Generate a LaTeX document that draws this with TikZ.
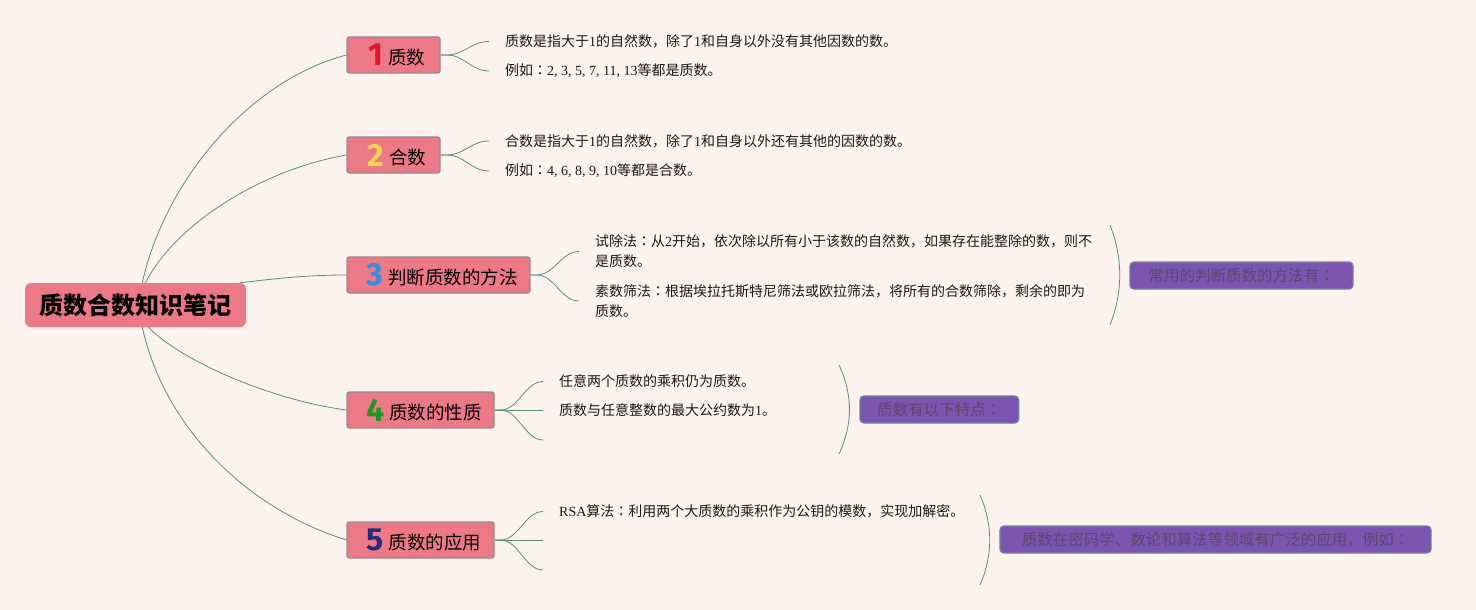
\documentclass[tikz,border=0pt]{standalone}
\usepackage{fontspec}
\setmainfont{Noto Sans CJK SC}
\newfontfamily\latn{Liberation Serif}
\newfontfamily\numf{Fira Sans}
\newfontfamily\tcf{Noto Sans CJK TC}
\definecolor{bg}{HTML}{FDF3EE}
\definecolor{pinkf}{HTML}{EE7986}
\definecolor{boxb}{HTML}{8E8E8E}
\definecolor{conn}{HTML}{5D8E73}
\definecolor{purp}{HTML}{7D55B1}
\definecolor{purpb}{HTML}{6D7FA3}
\definecolor{purpt}{HTML}{5A4A6C}
\definecolor{n1}{HTML}{E3162F}
\definecolor{n2}{HTML}{F7D54E}
\definecolor{n3}{HTML}{2E8FE0}
\definecolor{n4}{HTML}{1D9A22}
\definecolor{n5}{HTML}{1F2D80}
\newcommand\lt[1]{{\latn #1}}
\newcommand\cln{{\tcf ：}}
\newcommand\bnum[3]{\hspace{7pt}{\numf\bfseries\fontsize{32}{32}\selectfont\color{#1}#2}\hspace{5pt}\raisebox{1.5pt}{#3}}
\tikzset{
  rootbox/.style={fill=pinkf, rounded corners=6pt, minimum width=221pt, minimum height=44pt, inner sep=0pt, font=\bfseries\fontsize{24}{26}\selectfont, text=black},
  branch/.style={fill=pinkf, draw=boxb, line width=1.1pt, rounded corners=2pt, minimum height=36pt, inner sep=0pt, font=\fontsize{18.5}{20}\selectfont, text=black},
  leaf/.style={anchor=west, inner xsep=16pt, inner ysep=1pt, align=left, font=\fontsize{14}{20}\selectfont, text=black!90},
  pbox/.style={fill=purp, draw=purpb, line width=1.3pt, rounded corners=4pt, minimum height=27pt, inner sep=0pt, text=purpt, font=\fontsize{15.5}{17}\selectfont},
  mainc/.style={draw=conn, line width=0.8pt},
  leafc/.style={draw=conn, line width=0.8pt},
  brk/.style={draw=conn, line width=0.8pt}
}
\begin{document}
\begin{tikzpicture}[x=1pt,y=-1pt]
\useasboundingbox (0,0) rectangle (1476,610);
\fill[bg] (0,0) rectangle (1476,610);

% root
\node[rootbox] (root) at (135.5,305) {质数合数知识笔记};

% branches
\node[branch, minimum width=93pt] (b1) at (393.5,55) {\bnum{n1}{1}{质数}};
\node[branch, minimum width=93pt] (b2) at (393.5,155) {\bnum{n2}{2}{合数}};
\node[branch, minimum width=183pt] (b3) at (438.5,275) {\bnum{n3}{3}{判断质数的方法}};
\node[branch, minimum width=147pt] (b4) at (420.5,410) {\bnum{n4}{4}{质数的性质}};
\node[branch, minimum width=147pt] (b5) at (420.5,540) {\bnum{n5}{5}{质数的应用}};

% main connectors
\draw[mainc] (root.73) .. controls (165,180) and (250,80) .. (b1.west);
\draw[mainc] (root.66) .. controls (175,225) and (260,170) .. (b2.west);
\draw[mainc] (root.12.7) .. controls (280,278) and (310,275) .. (b3.west);
\draw[mainc] (root.-60) .. controls (180,360) and (270,400) .. (b4.west);
\draw[mainc] (root.-73) .. controls (165,430) and (250,510) .. (b5.west);

% leaves branch 1
\node[leaf] (l11) at (489,41.5) {质数是指大于\lt{1}的自然数，除了\lt{1}和自身以外没有其他因数的数。};
\node[leaf] (l12) at (489,71) {例如\cln\lt{2, 3, 5, 7, 11, 13}等都是质数。};
% leaves branch 2
\node[leaf] (l21) at (489,141) {合数是指大于\lt{1}的自然数，除了\lt{1}和自身以外还有其他的因数的数。};
\node[leaf] (l22) at (489,171) {例如\cln\lt{4, 6, 8, 9, 10}等都是合数。};
% leaves branch 3
\node[leaf] (l31) at (579,251.5) {试除法\cln 从\lt{2}开始，依次除以所有小于该数的自然数，如果存在能整除的数，则不\\是质数。};
\node[leaf] (l32) at (579,301) {素数筛法\cln 根据埃拉托斯特尼筛法或欧拉筛法，将所有的合数筛除，剩余的即为\\质数。};
% leaves branch 4
\node[leaf] (l41) at (543,381.5) {任意两个质数的乘积仍为质数。};
\node[leaf] (l42) at (543,410) {质数与任意整数的最大公约数为\lt{1}。};
\coordinate (c43) at (543,440);
% leaves branch 5
\node[leaf] (l51) at (543,511.5) {\lt{RSA}算法\cln 利用两个大质数的乘积作为公钥的模数，实现加解密。};
\coordinate (c52) at (543,540);
\coordinate (c53) at (543,570);

% leaf connectors
\draw[leafc] (b1.east) -- ++(6,0) .. controls +(18,0) and +(-18,0) .. (l11.west);
\draw[leafc] (b1.east) -- ++(6,0) .. controls +(18,0) and +(-18,0) .. (l12.west);
\draw[leafc] (b2.east) -- ++(6,0) .. controls +(18,0) and +(-18,0) .. (l21.west);
\draw[leafc] (b2.east) -- ++(6,0) .. controls +(18,0) and +(-18,0) .. (l22.west);
\draw[leafc] (b3.east) -- ++(6,0) .. controls +(18,0) and +(-18,0) .. (l31.west);
\draw[leafc] (b3.east) -- ++(6,0) .. controls +(18,0) and +(-18,0) .. (l32.west);
\draw[leafc] (b4.east) -- ++(6,0) .. controls +(18,0) and +(-18,0) .. (l41.west);
\draw[leafc] (b4.east) -- (l42.west);
\draw[leafc] (b4.east) -- ++(6,0) .. controls +(18,0) and +(-18,0) .. (c43);
\draw[leafc] (b5.east) -- ++(6,0) .. controls +(18,0) and +(-18,0) .. (l51.west);
\draw[leafc] (b5.east) -- (c52);
\draw[leafc] (b5.east) -- ++(6,0) .. controls +(18,0) and +(-18,0) .. (c53);

% brackets
\draw[brk] (1110,225) .. controls (1123,258) and (1123,292) .. (1110,325);
\draw[brk] (839,365) .. controls (853,395) and (853,424) .. (839,454);
\draw[brk] (980,495) .. controls (993,525) and (993,555) .. (980,585);

% summary boxes
\node[pbox, minimum width=223pt] (p3) at (1241.5,275.5) {常用的判断质数的方法有\cln};
\node[pbox, minimum width=158.6pt] (p4) at (939.3,409.5) {质数有以下特点\cln};
\node[pbox, minimum width=431pt] (p5) at (1215.5,539.5) {质数在密码学、数论和算法等领域有广泛的应用，例如\cln};
\end{tikzpicture}
\end{document}
